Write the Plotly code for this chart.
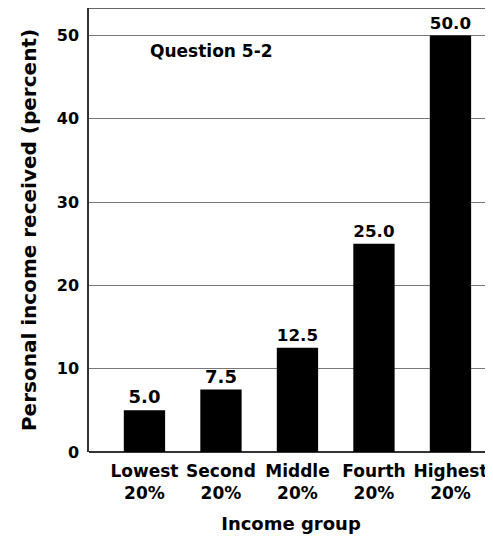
import plotly.graph_objects as go

categories = ["Lowest<br>20%", "Second<br>20%", "Middle<br>20%", "Fourth<br>20%", "Highest<br>20%"]
values = [5.0, 7.5, 12.5, 25.0, 50.0]
labels = ["5.0", "7.5", "12.5", "25.0", "50.0"]
yticks = [0, 10, 20, 30, 40, 50]

FONT = "DejaVu Sans, Verdana, sans-serif"

fig = go.Figure()
fig.add_trace(go.Bar(
    x=list(range(len(categories))), y=values,
    width=0.54,
    marker=dict(color="black", line=dict(width=0)),
    text=labels, textposition="outside", cliponaxis=False,
    textfont=dict(family=FONT, size=18, color="black"),
    texttemplate="<b>%{text}</b>",
))

fig.update_layout(
    width=485, height=530,
    margin=dict(l=81, r=0, t=0, b=86, autoexpand=False),
    plot_bgcolor="white", paper_bgcolor="white",
    showlegend=False,
    font=dict(family=FONT, color="black"),
    xaxis=dict(
        range=[-0.725, 4.556], automargin=False,
        tickmode="array", tickvals=list(range(len(categories))),
        ticktext=["<b>" + c + "</b>" for c in categories],
        tickfont=dict(size=17), showgrid=False, zeroline=False,
        showline=False, ticks="", ticklabelstandoff=7,
        title=dict(text="<b>Income group</b>", font=dict(size=18)),
    ),
    yaxis=dict(
        range=[0, 53.3], automargin=False,
        tickmode="array", tickvals=yticks,
        ticktext=["<b>%d</b>" % t for t in yticks],
        tickfont=dict(size=16), ticks="", ticklabelstandoff=5,
        showgrid=True, gridcolor="#777777", gridwidth=1,
        zeroline=True, zerolinecolor="#333333", zerolinewidth=1.5,
        showline=True, linecolor="#333333", linewidth=1.5, mirror=False,
        title=dict(text="<b>Personal income received (percent)</b>", font=dict(size=20)),
    ),
    shapes=[dict(type="line", xref="paper", yref="paper", x0=0, x1=1, y0=1, y1=1,
                 line=dict(color="#333333", width=1.5))],
    annotations=[dict(text="<b>Question 5-2</b>", xref="paper", yref="y",
                      x=0.304, y=48.1, xanchor="center", yanchor="middle", showarrow=False,
                      font=dict(family=FONT, size=17, color="black"))],
)

fig.write_html("out.html")
